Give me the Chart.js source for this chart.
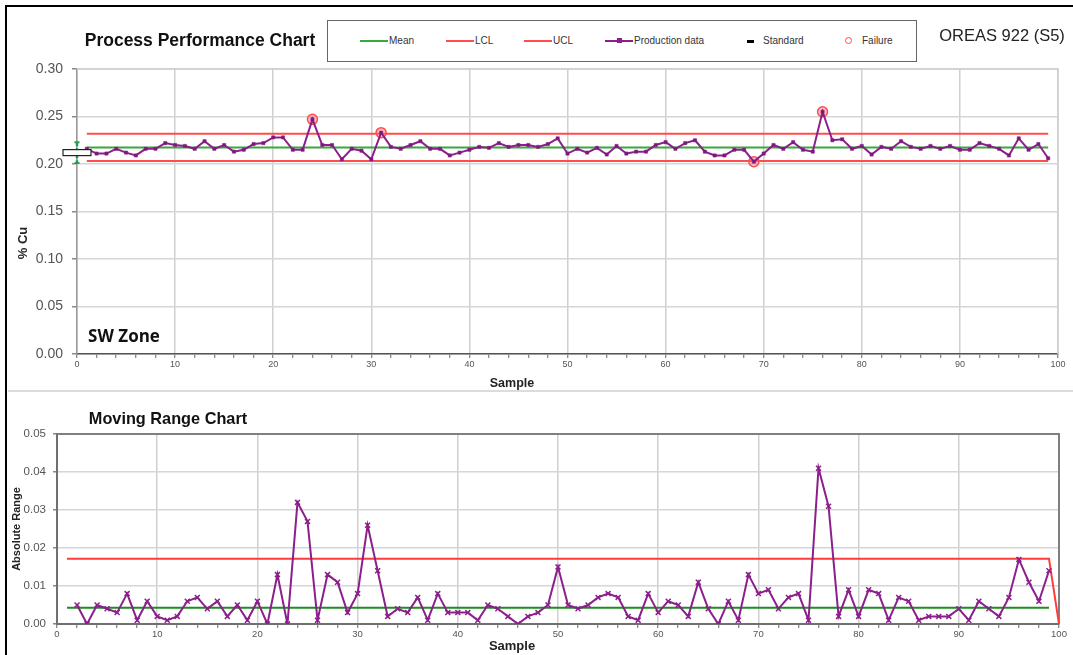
<!DOCTYPE html>
<html>
<head>
<meta charset="utf-8">
<script src="https://cdn.jsdelivr.net/npm/chart.js@4.4.1/dist/chart.umd.min.js"></script>
<style>
  html, body { margin: 0; padding: 0; background: #fff; }
  body { width: 1073px; height: 655px; position: relative; overflow: hidden; font-family: "Liberation Sans", Arial, sans-serif; }
  canvas { position: absolute; left: 0; }
  .txt { position: absolute; white-space: nowrap; transform: translate(-50%, -50%); z-index: 3; }
  .frame-top { position: absolute; left: 6px; top: 5px; width: 1067px; height: 2px; background: #000; z-index: 4; }
  .frame-left { position: absolute; left: 5px; top: 5px; width: 2px; height: 650px; background: #000; z-index: 4; }
  .sep { position: absolute; left: 8px; top: 390px; width: 1065px; height: 2px; background: #dcdcdc; z-index: 2; }
  #legend { position: absolute; left: 327px; top: 20px; width: 588px; height: 40px; border: 1px solid #666; background: #fff; z-index: 3; }
  .li { position: absolute; top: 14px; font-size: 10px; color: #333; line-height: 12px; }
  .li .ln { position: absolute; top: 5px; height: 2px; width: 28px; left: -29px; }
</style>
</head>
<body>
<div class="frame-top"></div>
<div class="frame-left"></div>
<div class="sep"></div>

<canvas id="perf" width="1073" height="395" style="top:0"></canvas>
<canvas id="mr" width="1073" height="260" style="top:395px"></canvas>

<div class="txt" style="left:200px;top:40px;font-size:17.5px;font-weight:bold;color:#111">Process Performance Chart</div>
<div id="legend"></div>
<div class="txt" style="left:1002px;top:35px;font-size:16.5px;color:#222">OREAS 922 (S5)</div>
<div class="txt" style="left:124px;top:335px;font-size:17px;font-weight:bold;font-family:'Open Sans',sans-serif;color:#111">SW Zone</div>
<div class="txt" style="left:22px;top:243px;font-size:13px;font-weight:bold;color:#222;transform:translate(-50%,-50%) rotate(-90deg)">% Cu</div>
<div class="txt" style="left:512px;top:383px;font-size:12.5px;font-weight:bold;color:#222">Sample</div>

<div class="txt" style="left:168px;top:418px;font-size:16.3px;font-weight:bold;color:#111">Moving Range Chart</div>
<div class="txt" style="left:16px;top:529px;font-size:11px;font-weight:bold;color:#222;transform:translate(-50%,-50%) rotate(-90deg)">Absolute Range</div>
<div class="txt" style="left:512px;top:645px;font-size:13px;font-weight:bold;color:#222">Sample</div>

<script>
// % Cu for samples 1..99
const sampleCu = [
  0.216, 0.211, 0.211, 0.216, 0.212, 0.209, 0.216, 0.216, 0.222, 0.220,
  0.219, 0.216, 0.224, 0.216, 0.220, 0.213, 0.215, 0.221, 0.222, 0.228,
  0.228, 0.215, 0.215, 0.247, 0.220, 0.220, 0.205, 0.216, 0.214, 0.205,
  0.233, 0.218, 0.216, 0.220, 0.224, 0.216, 0.216, 0.209, 0.212, 0.215,
  0.218, 0.217, 0.222, 0.218, 0.220, 0.220, 0.218, 0.221, 0.227, 0.211,
  0.216, 0.212, 0.217, 0.210, 0.219, 0.211, 0.213, 0.213, 0.220, 0.223,
  0.216, 0.222, 0.225, 0.213, 0.209, 0.209, 0.215, 0.215, 0.2025, 0.211,
  0.220, 0.216, 0.223, 0.215, 0.213, 0.255, 0.225, 0.226, 0.216, 0.219,
  0.210, 0.218, 0.216, 0.224, 0.218, 0.216, 0.219, 0.216, 0.219, 0.215,
  0.215, 0.222, 0.219, 0.216, 0.209, 0.227, 0.215, 0.221, 0.206
];
// moving range for samples 2..99
const movingRange = [
  0.005, 0.000, 0.005, 0.004, 0.003, 0.008, 0.001, 0.006, 0.002,
  0.001, 0.002, 0.006, 0.007, 0.004, 0.006, 0.002, 0.005, 0.001, 0.006,
  0.000, 0.013, 0.000, 0.032, 0.027, 0.001, 0.013, 0.011, 0.003, 0.008,
  0.026, 0.014, 0.002, 0.004, 0.003, 0.007, 0.001, 0.008, 0.003, 0.003,
  0.003, 0.001, 0.005, 0.004, 0.002, 0.000, 0.002, 0.003, 0.005, 0.015,
  0.005, 0.004, 0.005, 0.007, 0.008, 0.007, 0.002, 0.001, 0.008, 0.003,
  0.006, 0.005, 0.002, 0.011, 0.004, 0.000, 0.006, 0.001, 0.013, 0.008,
  0.009, 0.004, 0.007, 0.008, 0.001, 0.041, 0.031, 0.002, 0.009, 0.002,
  0.009, 0.008, 0.001, 0.007, 0.006, 0.001, 0.002, 0.002, 0.002, 0.004,
  0.001, 0.006, 0.004, 0.002, 0.007, 0.017, 0.011, 0.006, 0.014
];
const failureSamples = [24, 31, 69, 76];

const limitX = [1, 99];
const cuMean = 0.2175;
const cuUcl = 0.2318;
const cuLcl = 0.2032;
const standardValue = 0.212;
const standardLow = 0.201;
const standardHigh = 0.223;

const mrMean = 0.0043;
const mrUclX = [1, 99, 100];
const mrUclY = [0.0172, 0.0172, 0];

const cuTicks = { min: 0, max: 0.30, step: 0.05 };
const mrTicks = { min: 0, max: 0.05, step: 0.01 };

const legendItems = [
  { label: 'Mean', kind: 'line', color: '#3aa83a', left: 389 },
  { label: 'LCL', kind: 'line', color: '#ff4d4d', left: 475 },
  { label: 'UCL', kind: 'line', color: '#ff4d4d', left: 553 },
  { label: 'Production data', kind: 'prod', color: '#8b1f8b', left: 634 },
  { label: 'Standard', kind: 'std', color: '#000', left: 763 },
  { label: 'Failure', kind: 'fail', color: '#ff4d4d', left: 862 }
];

// legend (HTML)
const legendBox = document.getElementById('legend');
legendItems.forEach(it => {
  const el = document.createElement('div');
  el.className = 'li';
  el.style.left = (it.left - 328) + 'px';
  el.textContent = it.label;
  if (it.kind === 'line' || it.kind === 'prod') {
    const ln = document.createElement('span');
    ln.className = 'ln';
    ln.style.background = it.color;
    el.appendChild(ln);
    if (it.kind === 'prod') {
      const dot = document.createElement('span');
      dot.style.cssText = 'position:absolute;left:-17px;top:3px;width:5px;height:5px;background:' + it.color;
      el.appendChild(dot);
    }
  } else if (it.kind === 'std') {
    const d = document.createElement('span');
    d.style.cssText = 'position:absolute;left:-16px;top:5px;width:7px;height:3px;background:#000';
    el.appendChild(d);
  } else {
    const c = document.createElement('span');
    c.style.cssText = 'position:absolute;left:-17px;top:2px;width:5px;height:5px;border:1.5px solid ' + it.color + ';border-radius:50%';
    el.appendChild(c);
  }
  legendBox.appendChild(el);
});

Chart.defaults.font.family = '"Liberation Sans", Arial, sans-serif';
Chart.defaults.animation = false;

const xy = (xs, ys) => xs.map((x, i) => ({ x, y: ys[i] }));
const flat = v => limitX.map(x => ({ x, y: v }));
const tenGrid = (col) => ctx => (ctx.tick && Math.round(ctx.tick.value) % 10 === 0) ? col : 'rgba(0,0,0,0)';

// plot frame (top/right edges)
const framePlugin = {
  id: 'frame',
  beforeDatasetsDraw(chart, args, opts) {
    const { ctx, chartArea: { left, right, top, bottom } } = chart;
    ctx.save();
    ctx.strokeStyle = opts.color;
    ctx.lineWidth = opts.width;
    ctx.beginPath();
    ctx.moveTo(left, top); ctx.lineTo(right, top); ctx.lineTo(right, bottom);
    ctx.stroke();
    ctx.restore();
  }
};

// standard box + error bar at x = 0
const standardPlugin = {
  id: 'standard',
  afterDatasetsDraw(chart) {
    const { ctx, scales: { x, y } } = chart;
    const x0 = x.getPixelForValue(0);
    const yc = y.getPixelForValue(standardValue);
    const yl = y.getPixelForValue(standardLow);
    const yh = y.getPixelForValue(standardHigh);
    ctx.save();
    ctx.strokeStyle = '#1f9e55';
    ctx.lineWidth = 2.5;
    ctx.setLineDash([4, 2]);
    ctx.beginPath(); ctx.moveTo(x0, yh); ctx.lineTo(x0, yl); ctx.stroke();
    ctx.setLineDash([]);
    ctx.lineWidth = 2;
    ctx.beginPath();
    ctx.moveTo(x0 - 2.5, yh); ctx.lineTo(x0 + 2.5, yh);
    ctx.moveTo(x0 - 2.5, yl); ctx.lineTo(x0 + 2.5, yl);
    ctx.stroke();
    ctx.fillStyle = '#fff';
    ctx.strokeStyle = '#222';
    ctx.lineWidth = 1.2;
    ctx.fillRect(x0 - 14, yc - 3, 28, 6);
    ctx.strokeRect(x0 - 14, yc - 3, 28, 6);
    ctx.restore();
  }
};

const cuPoints = sampleCu.map((v, i) => ({ x: i + 1, y: v }));
const failPoints = failureSamples.map(s => ({ x: s, y: sampleCu[s - 1] }));

new Chart(document.getElementById('perf').getContext('2d'), {
  type: 'scatter',
  data: {
    datasets: [
      { label: 'Production data', data: cuPoints, showLine: true, borderColor: '#8b1f8b', backgroundColor: '#7a1a7a',
        borderWidth: 2, pointStyle: 'rect', pointRadius: 2.3, pointBorderWidth: 0.5 },
      { label: 'Failure', data: failPoints, borderColor: '#ff4d4d', backgroundColor: 'rgba(255,110,110,0.45)',
        borderWidth: 1.5, pointRadius: 5, showLine: false },
      { label: 'Mean', data: flat(cuMean), showLine: true, borderColor: '#3aa83a', borderWidth: 2, pointRadius: 0 },
      { label: 'UCL', data: flat(cuUcl), showLine: true, borderColor: '#ff4d4d', borderWidth: 2, pointRadius: 0 },
      { label: 'LCL', data: flat(cuLcl), showLine: true, borderColor: '#ff4d4d', borderWidth: 2, pointRadius: 0 }
    ]
  },
  options: {
    responsive: false,
    layout: { padding: { top: 69, right: 15, left: 0, bottom: 0 } },
    plugins: { legend: { display: false }, tooltip: { enabled: false }, frame: { color: '#cfcfcf', width: 1.5 } },
    scales: {
      x: {
        type: 'linear', min: 0, max: 100,
        afterFit: s => { s.height = 41; },
        ticks: { stepSize: 2, autoSkip: false, maxRotation: 0, padding: 1, color: '#555', font: { size: 9 },
          callback: v => (v % 10 === 0 ? v : '') },
        grid: { color: tenGrid('#d0d0d0'), lineWidth: 1.5, tickLength: 4, tickColor: '#666', tickWidth: 1 },
        border: { color: '#555', width: 1.5 }
      },
      y: {
        min: cuTicks.min, max: cuTicks.max,
        afterFit: s => { s.width = 77; },
        ticks: { stepSize: cuTicks.step, padding: 9, color: '#555', font: { size: 14 }, callback: v => v.toFixed(2) },
        grid: { color: '#d6d6d6', lineWidth: 1.5, tickLength: 5, tickColor: '#888' },
        border: { color: '#999', width: 1.5 }
      }
    }
  },
  plugins: [framePlugin, standardPlugin]
});

const mrPoints = movingRange.map((v, i) => ({ x: i + 2, y: v }));

new Chart(document.getElementById('mr').getContext('2d'), {
  type: 'scatter',
  data: {
    datasets: [
      { label: 'Moving range', data: mrPoints, showLine: true, borderColor: '#8b1f8b', backgroundColor: '#8b1f8b',
        borderWidth: 2, pointStyle: 'crossRot', pointRadius: 3.5, pointBorderWidth: 1.5 },
      { label: 'Mean', data: flat(mrMean), showLine: true, borderColor: '#1e8c1e', borderWidth: 2, pointRadius: 0 },
      { label: 'UCL', data: xy(mrUclX, mrUclY), showLine: true, borderColor: '#ff3b3b', borderWidth: 2, pointRadius: 0 }
    ]
  },
  options: {
    responsive: false,
    layout: { padding: { top: 39, right: 14, left: 0, bottom: 0 } },
    plugins: { legend: { display: false }, tooltip: { enabled: false }, frame: { color: '#808080', width: 2 } },
    scales: {
      x: {
        type: 'linear', min: 0, max: 100,
        afterFit: s => { s.height = 31; },
        ticks: { stepSize: 2, autoSkip: false, maxRotation: 0, padding: 1, color: '#555', font: { size: 9.5 },
          callback: v => (v % 10 === 0 ? v : '') },
        grid: { color: tenGrid('#d0d0d0'), lineWidth: 1.5, tickLength: 4, tickColor: '#666', tickWidth: 1 },
        border: { color: '#707070', width: 2 }
      },
      y: {
        min: mrTicks.min, max: mrTicks.max,
        afterFit: s => { s.width = 57; },
        ticks: { stepSize: mrTicks.step, padding: 7, color: '#555', font: { size: 11.5 }, callback: v => v.toFixed(2) },
        grid: { color: '#d6d6d6', lineWidth: 1.5, tickLength: 4, tickColor: '#888' },
        border: { color: '#707070', width: 2 }
      }
    }
  },
  plugins: [framePlugin]
});
</script>
</body>
</html>
